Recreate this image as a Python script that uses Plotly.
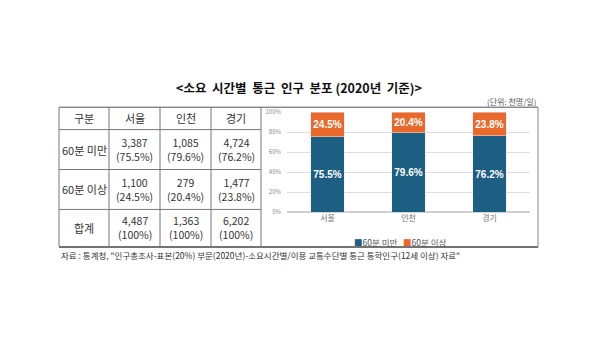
import plotly.graph_objects as go

# ---- data ----
regions = ["서울", "인천", "경기"]
series_names = ["60분 미만", "60분 이상"]
under60_count = [3387, 1085, 4724]
over60_count = [1100, 279, 1477]
total_count = [4487, 1363, 6202]
under60_pct = [75.5, 79.6, 76.2]
over60_pct = [24.5, 20.4, 23.8]
y_ticks = [0, 20, 40, 60, 80, 100]
y_tick_labels = ["0%", "20%", "40%", "60%", "80%", "100%"]

W, H = 600, 339
FONT = "Noto Sans CJK KR"
BLUE = "#1d5e83"
ORANGE = "#e9692c"


def px(x):
    return x / W


def py(y):
    return 1 - y / H


label_font = dict(color="white", size=10, family="Liberation Sans")
fig = go.Figure()
for vals, name, color in [(under60_pct, series_names[0], BLUE),
                          (over60_pct, series_names[1], ORANGE)]:
    fig.add_trace(go.Bar(
        x=regions, y=vals, name=name, marker_color=color,
        text=[f"<b>{v:.1f}%</b>" for v in vals], textposition="inside",
        insidetextanchor="middle", constraintext="none", textangle=0,
        textfont=label_font, showlegend=False,
    ))

fig.update_layout(
    width=W, height=H, margin=dict(l=0, r=0, t=0, b=0),
    paper_bgcolor="white", plot_bgcolor="white",
    barmode="stack", bargap=0.59,
    font=dict(family=FONT, color="#333"),
    xaxis=dict(domain=[px(287), px(530)], showgrid=False, showline=False,
               ticks="", tickfont=dict(size=8, color="#777"), fixedrange=True),
    yaxis=dict(domain=[py(213), py(110)], range=[0, 100], tickvals=y_ticks,
               ticktext=y_tick_labels, gridcolor="#dcdcdc", zeroline=True,
               zerolinecolor="#cfcfcf", tickfont=dict(size=6, color="#888"),
               showline=False, ticks="", ticklabelstandoff=5),
)

shapes = []
LINE = "#777"


def hline(y, x0, x1, color=LINE, w=1):
    shapes.append(dict(type="line", xref="paper", yref="paper",
                       x0=px(x0), x1=px(x1), y0=py(y), y1=py(y),
                       line=dict(color=color, width=w)))


def vline(x, y0, y1, color=LINE, w=1):
    shapes.append(dict(type="line", xref="paper", yref="paper",
                       x0=px(x), x1=px(x), y0=py(y0), y1=py(y1),
                       line=dict(color=color, width=w)))


# table grid
col_edges = [59, 109, 160, 211, 261]
row_edges = [105, 128, 169, 210, 248]
for y in row_edges[1:-1]:
    hline(y, col_edges[0], col_edges[-1])
for x in col_edges:
    vline(x, row_edges[0], row_edges[-1])
# outer frame spanning table and chart box
hline(105, 59, 538, color="#555")
hline(248.5, 59, 538, color="#444", w=1.5)
vline(538, 105, 249, color="#888")

annotations = []


def text(x, y, s, size=11, color="#333", xanchor="center", bold=False):
    annotations.append(dict(xref="paper", yref="paper", x=px(x), y=py(y),
                            text=f"<b>{s}</b>" if bold else s, showarrow=False,
                            xanchor=xanchor, yanchor="middle",
                            font=dict(size=size, color=color, family=FONT)))


col_centers = [(a + b) / 2 for a, b in zip(col_edges[:-1], col_edges[1:])]
row_centers = [(a + b) / 2 for a, b in zip(row_edges[:-1], row_edges[1:])]

text(col_centers[0], row_centers[0], "구분")
for i, r in enumerate(regions):
    text(col_centers[i + 1], row_centers[0], r)

row_labels = ["60분 미만", "60분 이상", "합계"]
for j, lab in enumerate(row_labels):
    text(col_centers[0], row_centers[j + 1], lab)

for i in range(len(regions)):
    text(col_centers[i + 1], row_centers[1],
         f"{under60_count[i]:,}<br>({under60_pct[i]:.1f}%)", size=10.5)
    text(col_centers[i + 1], row_centers[2],
         f"{over60_count[i]:,}<br>({over60_pct[i]:.1f}%)", size=10.5)
    text(col_centers[i + 1], row_centers[3],
         f"{total_count[i]:,}<br>(100%)", size=10.5)

# compact legend: coloured squares followed by series names
text(400, 243,
     f"<span style='color:{BLUE}'>■</span>{series_names[0]}   "
     f"<span style='color:{ORANGE}'>■</span>{series_names[1]}",
     size=8.5, color="#555")

# title, unit and source
text(299, 85, "&lt;소요  시간별  통근  인구  분포 (2020년  기준)&gt;",
     size=12.5, color="#111", bold=True)
text(538, 99, "(단위: 천명/일)", size=8, color="#555", xanchor="right")
text(59, 257,
     '자료 : 통계청, "인구총조사-표본(20%) 부문(2020년)-소요시간별/이용 교통수단별 통근 통학인구(12세 이상) 자료"',
     size=8.5, color="#333", xanchor="left")

fig.update_layout(shapes=shapes, annotations=annotations)
fig.write_html("out.html")
